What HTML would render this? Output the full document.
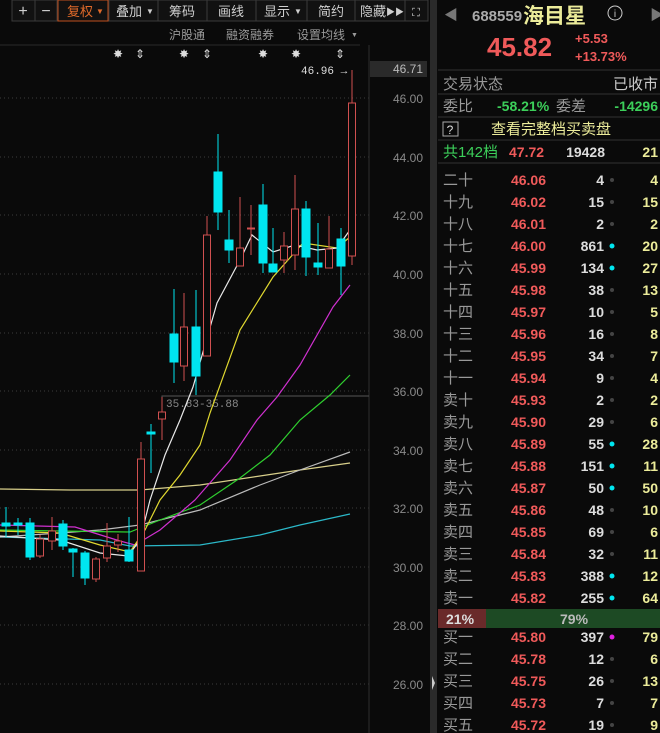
<!DOCTYPE html>
<html><head><meta charset="utf-8"><style>
html,body{margin:0;padding:0;background:#0a0a0a;width:660px;height:733px;overflow:hidden}
svg{display:block}
text{font-family:"Liberation Sans","Noto Sans CJK SC",sans-serif}
.m{font-family:"Liberation Mono","Noto Sans CJK SC",monospace}
</style></head><body>
<svg width="660" height="733" viewBox="0 0 660 733" xmlns="http://www.w3.org/2000/svg">
<rect width="660" height="733" fill="#0a0a0a"/>
<g font-size="13" fill="#cfcfcf" text-anchor="middle">
<rect x="12" y="0" width="416" height="21" fill="#111" stroke="#3a3a3a"/>
<g stroke="#3a3a3a"><line x1="35" y1="0" x2="35" y2="21"/><line x1="57" y1="0" x2="57" y2="21"/><line x1="109" y1="0" x2="109" y2="21"/><line x1="158" y1="0" x2="158" y2="21"/><line x1="207" y1="0" x2="207" y2="21"/><line x1="256" y1="0" x2="256" y2="21"/><line x1="307" y1="0" x2="307" y2="21"/><line x1="355" y1="0" x2="355" y2="21"/><line x1="405" y1="0" x2="405" y2="21"/></g>
<rect x="58" y="0" width="50" height="21" fill="none" stroke="#c0501e"/>
<text x="23" y="16" font-size="16">+</text><text x="46" y="16" font-size="16">−</text>
<text x="80" y="16" fill="#e06a2a">复权</text><text x="100" y="14" font-size="8" fill="#e06a2a">▼</text>
<text x="129" y="16">叠加</text><text x="150" y="14" font-size="8">▼</text>
<text x="182" y="16">筹码</text><text x="231" y="16">画线</text>
<text x="277" y="16">显示</text><text x="298" y="14" font-size="8">▼</text>
<text x="331" y="16">简约</text><text x="373" y="16">隐藏</text><text x="395" y="15" font-size="9">▶▶</text>
<text x="416" y="16" font-size="11">⛶</text>
</g>
<g font-size="12" fill="#9a9a9a"><text x="169" y="39">沪股通</text><text x="226" y="39">融资融券</text><text x="297" y="39">设置均线</text><text x="351" y="37" font-size="7">▼</text></g>
<line x1="0" y1="45" x2="360" y2="45" stroke="#2a2a2a"/>
<g font-size="12" fill="#ddd" text-anchor="middle"><text x="118" y="58">✸</text><text x="140" y="58">⇕</text><text x="184" y="58">✸</text><text x="207" y="58">⇕</text><text x="263" y="58">✸</text><text x="296" y="58">✸</text><text x="340" y="58">⇕</text></g>
<g stroke="#3c3c3c" stroke-dasharray="1,3">
<line x1="0" y1="98" x2="369" y2="98"/><line x1="0" y1="157" x2="369" y2="157"/><line x1="0" y1="215" x2="369" y2="215"/><line x1="0" y1="274" x2="369" y2="274"/><line x1="0" y1="333" x2="369" y2="333"/><line x1="0" y1="391" x2="369" y2="391"/><line x1="0" y1="450" x2="369" y2="450"/><line x1="0" y1="508" x2="369" y2="508"/><line x1="0" y1="567" x2="369" y2="567"/><line x1="0" y1="625" x2="369" y2="625"/><line x1="0" y1="684" x2="369" y2="684"/>
</g>
<line x1="369" y1="45" x2="369" y2="733" stroke="#2e2e2e"/>
<g class="m" font-size="12" fill="#8a8a8a" text-anchor="end">
<rect x="370" y="61" width="57" height="16" fill="#2a2a2a"/>
<text x="423" y="73" fill="#bbb">46.71</text>
<text x="423" y="103">46.00</text><text x="423" y="162">44.00</text><text x="423" y="220">42.00</text><text x="423" y="279">40.00</text><text x="423" y="338">38.00</text><text x="423" y="396">36.00</text><text x="423" y="455">34.00</text><text x="423" y="513">32.00</text><text x="423" y="572">30.00</text><text x="423" y="630">28.00</text><text x="423" y="689">26.00</text>
</g>
<text x="301" y="74" class="m" font-size="11" fill="#ddd">46.96 →</text>
<polyline points="162,412 162,396 369,396" fill="none" stroke="#555"/>
<text x="166" y="407" class="m" font-size="11" fill="#888">35.83-35.88</text>
<g fill="none" stroke-width="1.2">
<polyline stroke="#d8cf8a" points="0,489 70,490 140,490 200,485 260,476 300,470 350,463"/>
<polyline stroke="#2bb8c8" points="0,537 100,540 130,546 200,545 260,535 300,525 350,514"/>
<polyline stroke="#bbbbbb" points="0,537 60,533 100,530 140,525 200,510 260,485 300,470 350,452"/>
<polyline stroke="#2fcf2f" points="0,530 60,531 130,532 160,520 200,505 240,478 270,455 300,420 330,395 350,375"/>
<polyline stroke="#d030d0" points="0,525 75,527 120,541 135,545 160,530 195,500 230,460 257,420 277,397 300,365 333,307 350,285"/>
<polyline stroke="#e0d830" points="0,531 60,533 100,545 130,552 145,530 160,500 180,475 200,445 210,413 240,330 273,277 303,243 337,248 350,237"/>
<polyline stroke="#e8e8e8" points="0,536 60,540 100,553 128,556 140,540 150,500 165,455 180,420 193,387 217,303 240,260 252,235 273,252 295,245 317,250 337,248 350,230"/>
</g>
<g stroke-width="1">
<g stroke="#00e6f0" fill="#00e6f0">
<line x1="6" y1="507" x2="6" y2="537"/><rect x="2" y="523" width="8" height="3"/>
<line x1="18" y1="518" x2="18" y2="535"/><rect x="14" y="523" width="8" height="2"/>
<line x1="30" y1="518" x2="30" y2="560"/><rect x="26" y="523" width="8" height="34"/>
<line x1="63" y1="520" x2="63" y2="550"/><rect x="59" y="524" width="8" height="22"/>
<line x1="73" y1="548" x2="73" y2="577"/><rect x="69" y="549" width="8" height="3"/>
<line x1="85" y1="551" x2="85" y2="585"/><rect x="81" y="553" width="8" height="25"/>
<line x1="129" y1="517" x2="129" y2="562"/><rect x="125" y="550" width="8" height="11"/>
<line x1="151" y1="424" x2="151" y2="473"/><rect x="147" y="432" width="8" height="2"/>
<line x1="174" y1="289" x2="174" y2="383"/><rect x="170" y="334" width="8" height="28"/>
<line x1="196" y1="290" x2="196" y2="395"/><rect x="192" y="327" width="8" height="49"/>
<line x1="218" y1="134" x2="218" y2="230"/><rect x="214" y="172" width="8" height="40"/>
<line x1="229" y1="210" x2="229" y2="263"/><rect x="225" y="240" width="8" height="10"/>
<line x1="263" y1="184" x2="263" y2="273"/><rect x="259" y="205" width="8" height="58"/>
<line x1="273" y1="228" x2="273" y2="272"/><rect x="269" y="264" width="8" height="8"/>
<line x1="306" y1="201" x2="306" y2="276"/><rect x="302" y="209" width="8" height="48"/>
<line x1="318" y1="223" x2="318" y2="275"/><rect x="314" y="263" width="8" height="4"/>
<line x1="341" y1="228" x2="341" y2="295"/><rect x="337" y="239" width="8" height="27"/>
</g>
<g stroke="#d05050" fill="#0a0a0a">
<line x1="40" y1="535" x2="40" y2="558"/><rect x="36.5" y="539" width="7" height="17"/>
<line x1="52" y1="517" x2="52" y2="550"/><rect x="48.5" y="531" width="7" height="10"/>
<line x1="96" y1="557" x2="96" y2="582"/><rect x="92.5" y="559" width="7" height="20"/>
<line x1="107" y1="523" x2="107" y2="562"/><rect x="103.5" y="546" width="7" height="12"/>
<line x1="118" y1="534" x2="118" y2="552"/><rect x="114.5" y="541" width="7" height="4"/>
<line x1="141" y1="442" x2="141" y2="571"/><rect x="137.5" y="459" width="7" height="112"/>
<line x1="162" y1="397" x2="162" y2="440"/><rect x="158.5" y="412" width="7" height="7"/>
<line x1="184" y1="293" x2="184" y2="381"/><rect x="180.5" y="327" width="7" height="39"/>
<line x1="207" y1="216" x2="207" y2="356"/><rect x="203.5" y="235" width="7" height="121"/>
<line x1="240" y1="197" x2="240" y2="266"/><rect x="236.5" y="248" width="7" height="18"/>
<line x1="251" y1="205" x2="251" y2="255"/><rect x="247.5" y="228" width="7" height="1"/>
<line x1="284" y1="232" x2="284" y2="273"/><rect x="280.5" y="246" width="7" height="14"/>
<line x1="295" y1="175" x2="295" y2="270"/><rect x="291.5" y="209" width="7" height="46"/>
<line x1="329" y1="216" x2="329" y2="268"/><rect x="325.5" y="249" width="7" height="19"/>
<line x1="352" y1="70" x2="352" y2="265"/><rect x="348.5" y="103" width="7" height="153"/>
</g>
</g>
<rect x="430" y="0" width="7" height="733" fill="#2a2a2a"/>
<path d="M432 676 L435 683 L432 690 Z" fill="#ccc"/>
<g font-size="14">
<text x="444" y="20" fill="#777" font-size="14">◀</text><text x="650" y="20" fill="#777" font-size="14">▶</text>
<text x="472" y="21" fill="#aaa" font-size="15" font-weight="bold">688559</text>
<text x="523" y="23" fill="#ecec9a" font-size="21" font-weight="bold">海目星</text>
<circle cx="615" cy="13" r="7" fill="none" stroke="#ccc"/><text x="615" y="17" fill="#ccc" font-size="10" text-anchor="middle">i</text>
<text x="487" y="56" fill="#f05a5a" font-size="26" font-weight="bold">45.82</text>
<text x="575" y="43" fill="#f05a5a" font-size="13" font-weight="bold">+5.53</text>
<text x="575" y="61" fill="#f05a5a" font-size="13" font-weight="bold">+13.73%</text>
<line x1="438" y1="70" x2="660" y2="70" stroke="#333"/>
<text x="443" y="89" fill="#999" font-size="15">交易状态</text><text x="658" y="89" fill="#ccc" text-anchor="end" font-size="15">已收市</text>
<line x1="438" y1="94" x2="660" y2="94" stroke="#333"/>
<text x="443" y="111" fill="#999" font-size="15">委比</text><text x="497" y="111" fill="#3ccf5a" font-size="14" font-weight="bold">-58.21%</text>
<text x="556" y="111" fill="#999" font-size="15">委差</text><text x="658" y="111" fill="#3ccf5a" text-anchor="end" font-size="14" font-weight="bold">-14296</text>
<line x1="438" y1="117" x2="660" y2="117" stroke="#333"/>
<rect x="443" y="122" width="15" height="14" fill="none" stroke="#aaa"/><text x="450" y="134" fill="#ddd" font-size="12" text-anchor="middle">?</text>
<text x="491" y="134" fill="#ecec9a" font-size="15">查看完整档买卖盘</text>
<line x1="438" y1="140" x2="660" y2="140" stroke="#333"/>
<text x="443" y="157" fill="#3ccf5a" font-size="15">共142档</text><text x="509" y="157" fill="#f05a5a" font-size="14" font-weight="bold">47.72</text>
<text x="605" y="157" fill="#ddd" font-size="14" font-weight="bold" text-anchor="end">19428</text><text x="658" y="157" fill="#ecec9a" font-size="14" font-weight="bold" text-anchor="end">21</text>
<line x1="438" y1="163" x2="660" y2="163" stroke="#333"/>
<rect x="438" y="609" width="222" height="19" fill="#1d4a24"/><rect x="438" y="609" width="48" height="19" fill="#6a2a2a"/>
<text x="446" y="624" fill="#ddd" font-size="14" font-weight="bold">21%</text><text x="560" y="624" fill="#bbb" font-size="14" font-weight="bold">79%</text>
</g>
<g font-size="14" font-weight="bold">
<g fill="#999" font-size="15" font-weight="normal">
<text x="443" y="185">二十</text><text x="443" y="207">十九</text><text x="443" y="229">十八</text><text x="443" y="251">十七</text><text x="443" y="273">十六</text><text x="443" y="295">十五</text><text x="443" y="317">十四</text><text x="443" y="339">十三</text><text x="443" y="361">十二</text><text x="443" y="383">十一</text><text x="443" y="405">卖十</text><text x="443" y="427">卖九</text><text x="443" y="449">卖八</text><text x="443" y="471">卖七</text><text x="443" y="493">卖六</text><text x="443" y="515">卖五</text><text x="443" y="537">卖四</text><text x="443" y="559">卖三</text><text x="443" y="581">卖二</text><text x="443" y="603">卖一</text>
<text x="443" y="642">买一</text><text x="443" y="664">买二</text><text x="443" y="686">买三</text><text x="443" y="708">买四</text><text x="443" y="730">买五</text>
</g>
<g fill="#f05a5a" text-anchor="end">
<text x="546" y="185">46.06</text><text x="546" y="207">46.02</text><text x="546" y="229">46.01</text><text x="546" y="251">46.00</text><text x="546" y="273">45.99</text><text x="546" y="295">45.98</text><text x="546" y="317">45.97</text><text x="546" y="339">45.96</text><text x="546" y="361">45.95</text><text x="546" y="383">45.94</text><text x="546" y="405">45.93</text><text x="546" y="427">45.90</text><text x="546" y="449">45.89</text><text x="546" y="471">45.88</text><text x="546" y="493">45.87</text><text x="546" y="515">45.86</text><text x="546" y="537">45.85</text><text x="546" y="559">45.84</text><text x="546" y="581">45.83</text><text x="546" y="603">45.82</text>
<text x="546" y="642">45.80</text><text x="546" y="664">45.78</text><text x="546" y="686">45.75</text><text x="546" y="708">45.73</text><text x="546" y="730">45.72</text>
</g>
<g fill="#ddd" text-anchor="end">
<text x="604" y="185">4</text><text x="604" y="207">15</text><text x="604" y="229">2</text><text x="604" y="251">861</text><text x="604" y="273">134</text><text x="604" y="295">38</text><text x="604" y="317">10</text><text x="604" y="339">16</text><text x="604" y="361">34</text><text x="604" y="383">9</text><text x="604" y="405">2</text><text x="604" y="427">29</text><text x="604" y="449">55</text><text x="604" y="471">151</text><text x="604" y="493">50</text><text x="604" y="515">48</text><text x="604" y="537">69</text><text x="604" y="559">32</text><text x="604" y="581">388</text><text x="604" y="603">255</text>
<text x="604" y="642">397</text><text x="604" y="664">12</text><text x="604" y="686">26</text><text x="604" y="708">7</text><text x="604" y="730">19</text>
</g>
<g fill="#444">
<circle cx="612" cy="180" r="2"/><circle cx="612" cy="202" r="2"/><circle cx="612" cy="224" r="2"/><circle cx="612" cy="290" r="2"/><circle cx="612" cy="312" r="2"/><circle cx="612" cy="334" r="2"/><circle cx="612" cy="356" r="2"/><circle cx="612" cy="378" r="2"/><circle cx="612" cy="400" r="2"/><circle cx="612" cy="422" r="2"/><circle cx="612" cy="510" r="2"/><circle cx="612" cy="532" r="2"/><circle cx="612" cy="554" r="2"/><circle cx="612" cy="659" r="2"/><circle cx="612" cy="681" r="2"/><circle cx="612" cy="703" r="2"/><circle cx="612" cy="725" r="2"/>
</g>
<g fill="#00e6f0">
<circle cx="612" cy="246" r="2.5"/><circle cx="612" cy="268" r="2.5"/><circle cx="612" cy="444" r="2.5"/><circle cx="612" cy="466" r="2.5"/><circle cx="612" cy="488" r="2.5"/><circle cx="612" cy="576" r="2.5"/><circle cx="612" cy="598" r="2.5"/>
</g>
<circle cx="612" cy="637" r="2.5" fill="#e020e0"/>
<g fill="#ecec9a" text-anchor="end">
<text x="658" y="185">4</text><text x="658" y="207">15</text><text x="658" y="229">2</text><text x="658" y="251">20</text><text x="658" y="273">27</text><text x="658" y="295">13</text><text x="658" y="317">5</text><text x="658" y="339">8</text><text x="658" y="361">7</text><text x="658" y="383">4</text><text x="658" y="405">2</text><text x="658" y="427">6</text><text x="658" y="449">28</text><text x="658" y="471">11</text><text x="658" y="493">50</text><text x="658" y="515">10</text><text x="658" y="537">6</text><text x="658" y="559">11</text><text x="658" y="581">12</text><text x="658" y="603">64</text>
<text x="658" y="642">79</text><text x="658" y="664">6</text><text x="658" y="686">13</text><text x="658" y="708">7</text><text x="658" y="730">9</text>
</g>
</g>
</svg>
</body></html>
